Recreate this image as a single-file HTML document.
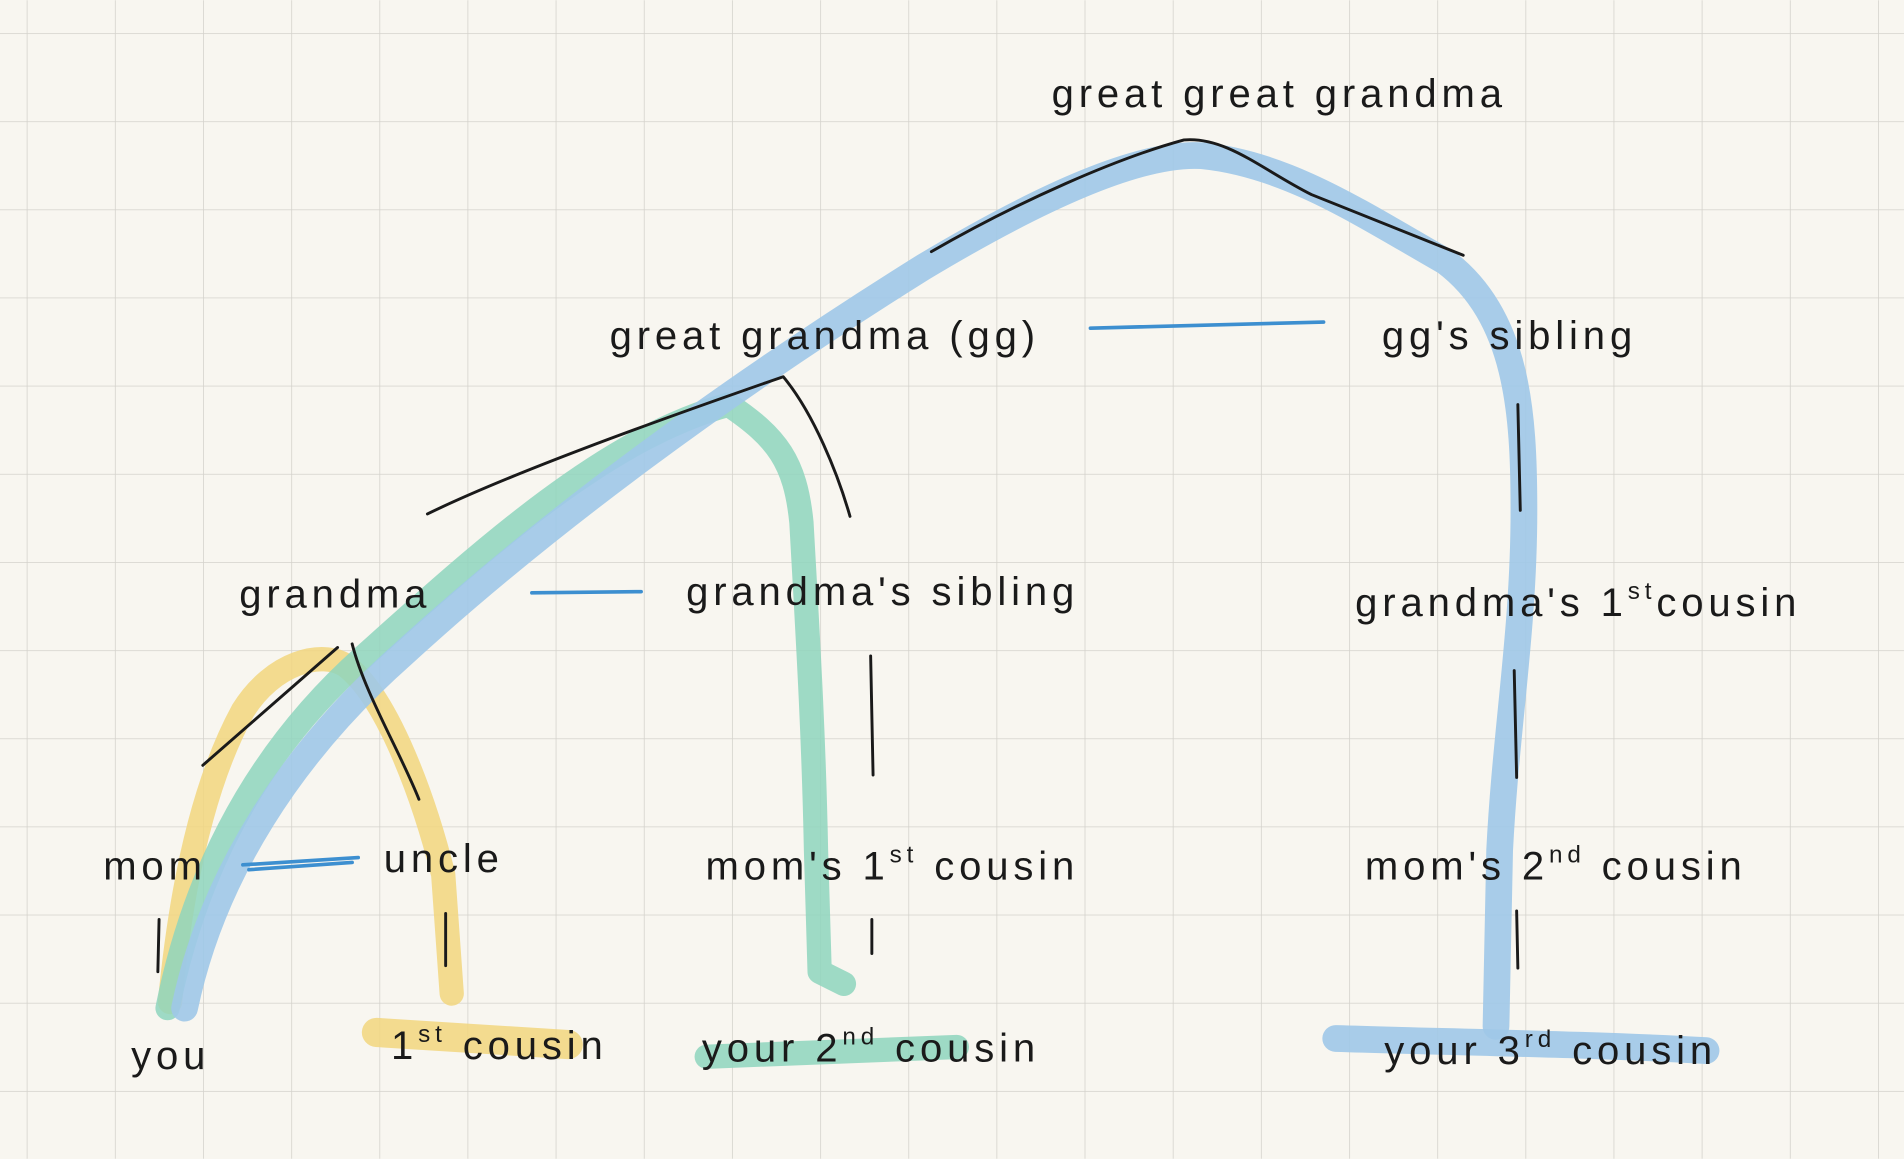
<!DOCTYPE html>
<html><head><meta charset="utf-8"><style>
html,body{margin:0;padding:0;background:#f8f6f0;}
svg{display:block;}
text{font-family:"Liberation Sans",sans-serif;fill:#1a1a1a;font-size:33px;letter-spacing:4px;}
</style></head><body>
<svg width="1904" height="1159" viewBox="0 0 1568 954" xmlns="http://www.w3.org/2000/svg">
<defs>
<pattern id="g" x="22" y="27" width="72.6" height="72.6" patternUnits="userSpaceOnUse">
<path d="M0 0H72.6M0 0V72.6" stroke="#d4d2cc" stroke-width="1.3" fill="none"/>
</pattern>
</defs>
<rect width="1568" height="954" fill="#f8f6f0"/>
<rect width="1568" height="954" fill="url(#g)"/>
<g fill="none" stroke-linecap="round" stroke-linejoin="round">
<path d="M140 825 C150 720 170 640 200 585 C225 545 265 535 285 548 C320 575 350 660 365 720 L372 818" stroke="#f2d67e" stroke-width="20" opacity="0.85"/>
<path d="M310 850 L468 860" stroke="#f2d67e" stroke-width="24" opacity="0.85"/>
<path d="M138 830 C160 720 210 620 300 540 C400 450 500 360 600 333 C640 360 655 380 660 430 C665 520 670 600 672 700 L675 800 L695 810" stroke="#8ed5bd" stroke-width="20" opacity="0.85"/>
<path d="M582 870 L788 862" stroke="#8ed5bd" stroke-width="20" opacity="0.85"/>
<path d="M152 830 C175 720 240 620 330 540 C450 430 600 320 760 220 C860 160 940 125 990 128 C1060 135 1120 175 1190 215 C1250 260 1255 340 1255 420 C1255 520 1240 600 1235 700 L1232 845" stroke="#9ec8e8" stroke-width="22" opacity="0.9"/>
<path d="M1100 855 C1200 858 1320 860 1405 865" stroke="#9ec8e8" stroke-width="22" opacity="0.9"/>
<g stroke="#3d8fd0" stroke-width="3">
<path d="M898 270 L1090 265"/>
<path d="M438 488 L528 487"/>
<path d="M200 712 L295 706 M205 716 L290 710"/>
</g>
<g stroke="#1a1a1a" stroke-width="2.4">
<path d="M767 207 C840 165 920 130 975 115 C1010 112 1040 140 1080 160 L1205 210"/>
<path d="M352 423 C420 390 530 350 645 310 C670 340 690 390 700 425"/>
<path d="M167 630 L278 533 M290 530 C300 570 330 620 345 658"/>
<path d="M131 757 L130 800 M367 752 L367 795 M717 540 L719 638 M718 757 L718 785 M1250 333 L1252 420 M1247 552 L1249 640 M1249 750 L1250 797"/>
</g>
</g>
<text x="866" y="88" letter-spacing="6">great great grandma</text>
<text x="502" y="287" letter-spacing="5">great grandma (gg)</text>
<text x="1138" y="287">gg's sibling</text>
<text x="197" y="500">grandma</text>
<text x="565" y="498" letter-spacing="5">grandma's sibling</text>
<text x="1116" y="507" letter-spacing="3">grandma's 1<tspan font-size="20" dy="-14">st</tspan><tspan dy="14">cousin</tspan></text>
<text x="85" y="724">mom</text>
<text x="316" y="718">uncle</text>
<text x="581" y="724" letter-spacing="3">mom's 1<tspan font-size="20" dy="-14">st</tspan><tspan dy="14"> cousin</tspan></text>
<text x="1124" y="724" letter-spacing="3">mom's 2<tspan font-size="20" dy="-14">nd</tspan><tspan dy="14"> cousin</tspan></text>
<text x="108" y="880">you</text>
<text x="322" y="872" letter-spacing="3">1<tspan font-size="20" dy="-14">st</tspan><tspan dy="14"> cousin</tspan></text>
<text x="578" y="874" letter-spacing="3">your 2<tspan font-size="20" dy="-14">nd</tspan><tspan dy="14"> cousin</tspan></text>
<text x="1140" y="876" letter-spacing="3">your 3<tspan font-size="20" dy="-14">rd</tspan><tspan dy="14"> cousin</tspan></text>
</svg>
</body></html>
